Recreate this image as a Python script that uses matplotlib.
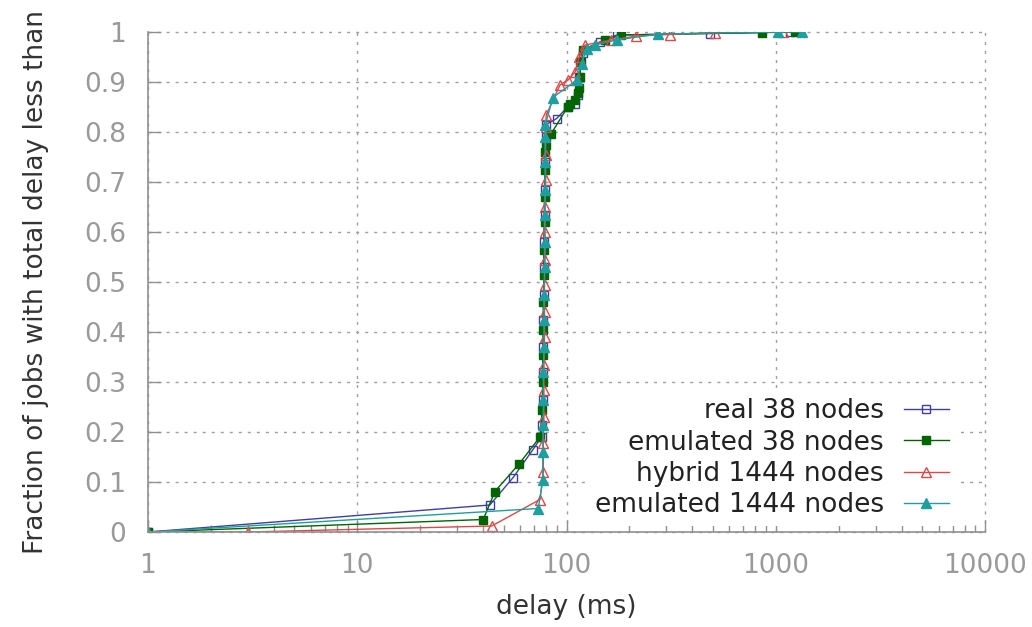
import matplotlib.pyplot as plt
from matplotlib.ticker import FixedLocator, LogLocator, NullFormatter

# CDF of total job delay for each setup
real38_x = [1, 43, 55.6, 68.9, 76, 76.5, 77, 77, 77.5, 77.5, 78, 78, 78, 78.5, 78.5,
            79, 79.5, 80, 89.8, 101.6, 110, 113, 114.5, 116, 120, 144.5, 174, 485, 1170]
real38_y = [0, 0.054, 0.109, 0.164, 0.19, 0.215, 0.265, 0.32, 0.37, 0.425, 0.475, 0.53,
            0.58, 0.635, 0.685, 0.74, 0.79, 0.815, 0.827, 0.851, 0.857, 0.875, 0.91,
            0.94, 0.958, 0.98, 0.994, 0.997, 1.0]

emu38_x = [1, 40, 45.5, 59.3, 74.7, 76.5, 77, 77, 77.5, 77.5, 78, 78, 78.5, 78.5, 79,
           79, 80, 84.3, 101.6, 104, 110, 113.5, 115, 116, 117, 120, 153, 183, 857, 1240]
emu38_y = [0, 0.025, 0.081, 0.136, 0.19, 0.245, 0.3, 0.355, 0.405, 0.46, 0.515, 0.565,
           0.62, 0.67, 0.725, 0.76, 0.775, 0.796, 0.851, 0.857, 0.864, 0.878, 0.888,
           0.91, 0.94, 0.965, 0.984, 0.994, 0.999, 1.0]

hyb1444_x = [1, 3.02, 43.9, 74.7, 77.5, 77.5, 78, 78, 78, 78.5, 78.5, 78.5, 79, 79, 79,
             79.5, 79.5, 79.5, 80, 93.1, 101.6, 110, 115, 122.6, 164, 216, 312, 512, 1083]
hyb1444_y = [0, 0.0, 0.012, 0.065, 0.12, 0.178, 0.23, 0.285, 0.335, 0.39, 0.44, 0.495,
             0.545, 0.6, 0.65, 0.705, 0.755, 0.81, 0.834, 0.894, 0.904, 0.92, 0.95,
             0.974, 0.984, 0.992, 0.995, 0.999, 1.0]

emu1444_x = [1, 73.3, 77, 77, 77.5, 77.5, 77.5, 78, 78, 78, 78.5, 78.5, 78.5, 79, 79,
             79, 79.2, 86, 112, 118, 125, 137, 174, 274, 1020, 1330]
emu1444_y = [0, 0.047, 0.104, 0.16, 0.215, 0.265, 0.32, 0.37, 0.425, 0.475, 0.53, 0.58,
             0.635, 0.685, 0.74, 0.79, 0.814, 0.869, 0.904, 0.937, 0.967, 0.974, 0.984,
             0.996, 1.0, 1.0]

yticks = [0, 0.1, 0.2, 0.3, 0.4, 0.5, 0.6, 0.7, 0.8, 0.9, 1]
ytick_labels = ['0', '0.1', '0.2', '0.3', '0.4', '0.5', '0.6', '0.7', '0.8', '0.9', '1']
xticks = [1, 10, 100, 1000, 10000]
xtick_labels = ['1', '10', '100', '1000', '10000']

plt.rcParams['font.family'] = 'DejaVu Sans'

fig = plt.figure(figsize=(10.32, 6.27), dpi=100)
ax = fig.add_axes([148 / 1032, 95 / 627, 837 / 1032, 500 / 627])

ax.plot(real38_x, real38_y, color='#3f3fa0', lw=1.0, marker='s', ms=5.5,
        mfc='none', mec='#3f3fa0', mew=1.0, label='real 38 nodes')
ax.plot(emu38_x, emu38_y, color='#006400', lw=1.0, marker='s', ms=6,
        mfc='#006400', mec='#006400', label='emulated 38 nodes')
ax.plot(hyb1444_x, hyb1444_y, color='#dd4848', lw=1.0, marker='^', ms=7,
        mfc='none', mec='#dd4848', mew=1.0, label='hybrid 1444 nodes')
ax.plot(emu1444_x, emu1444_y, color='#1e9e9e', lw=1.0, marker='^', ms=7,
        mfc='#1e9e9e', mec='#1e9e9e', label='emulated 1444 nodes')

ax.set_xscale('log')
ax.set_xlim(1, 10000)
ax.set_ylim(0, 1)

ax.xaxis.set_major_locator(FixedLocator(xticks))
ax.set_xticklabels(xtick_labels)
ax.xaxis.set_minor_locator(LogLocator(base=10, subs=range(2, 10)))
ax.xaxis.set_minor_formatter(NullFormatter())
ax.set_yticks(yticks)
ax.set_yticklabels(ytick_labels)

ax.tick_params(axis='both', which='major', direction='in', length=9, width=1,
               color='#909090', labelcolor='#9a9a9a', labelsize=19)
ax.tick_params(axis='y', which='major', pad=16)
ax.tick_params(axis='x', which='major', pad=15)
ax.tick_params(axis='x', which='minor', direction='in', length=5, width=1,
               color='#909090')

ax.grid(True, which='major', color='#a0a0a0', linestyle=(0, (2.2, 4.3)), lw=1.0)
# keep the grid lines on the outer edges (x=10000, y=1) fully drawn
for gl in ax.get_xgridlines() + ax.get_ygridlines():
    gl.set_clip_on(False)

for side in ['top', 'right']:
    ax.spines[side].set_visible(False)
for side in ['left', 'bottom']:
    ax.spines[side].set_color('#909090')
    ax.spines[side].set_linewidth(1.2)

ax.set_xlabel('delay (ms)', fontsize=19, color='#333333', labelpad=11)
ax.set_ylabel('Fraction of jobs with total delay less than', fontsize=19,
              color='#333333', labelpad=25)

leg = ax.legend(loc='lower right', bbox_to_anchor=(0.966, 0.012), markerfirst=False,
                frameon=True, fancybox=False, edgecolor='none', facecolor='white',
                framealpha=1.0, fontsize=19, handlelength=1.7, handletextpad=0.75,
                labelspacing=0.2, borderpad=0.3, borderaxespad=0)
for t in leg.get_texts():
    t.set_color('#222222')
    t.set_ha('right')

fig.savefig('out.png', dpi=100)
